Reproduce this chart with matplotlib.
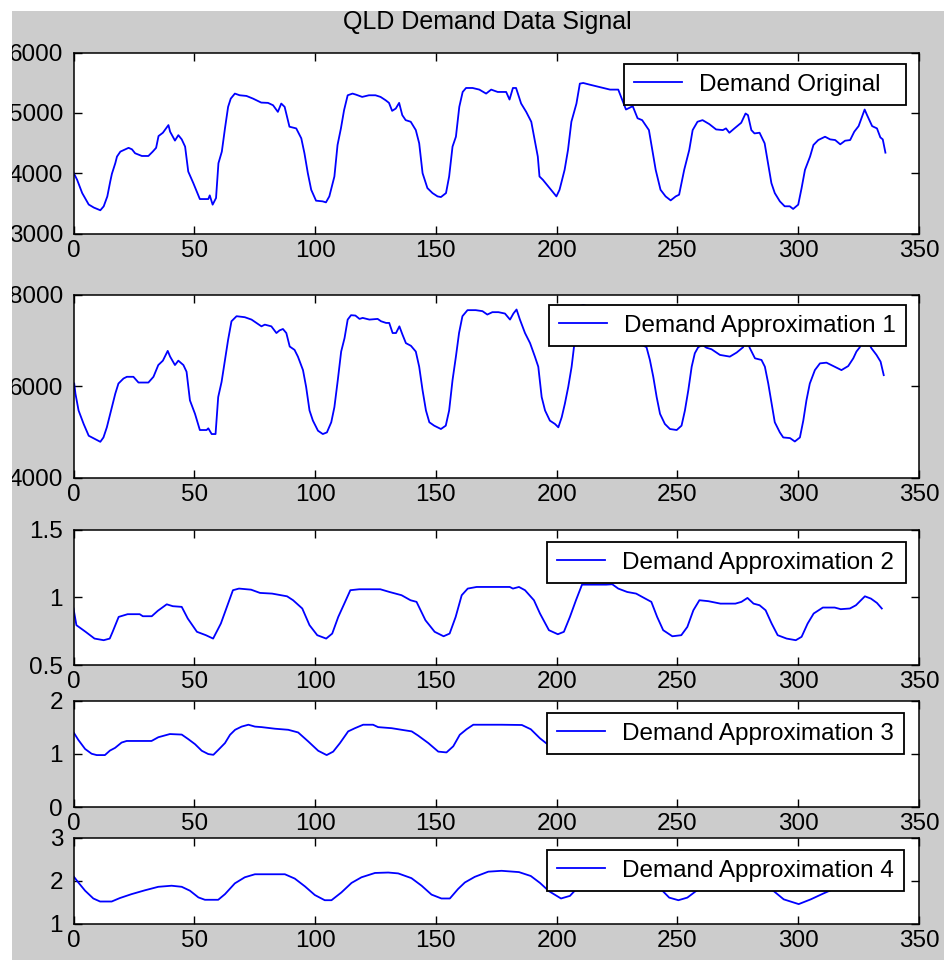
import matplotlib
matplotlib.use("Agg")
import matplotlib.pyplot as plt
from matplotlib.patches import Rectangle

plt.rcParams['font.family'] = ['Liberation Sans', 'DejaVu Sans']

# ---------------- data ----------------
title = "QLD Demand Data Signal"
legend_labels = ["Demand Original", "Demand Approximation 1", "Demand Approximation 2",
                 "Demand Approximation 3", "Demand Approximation 4"]
xticks = [0, 50, 100, 150, 200, 250, 300, 350]
yticks_list = [[3000, 4000, 5000, 6000], [4000, 6000, 8000], [0.5, 1, 1.5], [0, 1, 2], [1, 2, 3]]
ytick_labels_list = [["3000", "4000", "5000", "6000"], ["4000", "6000", "8000"],
                     ["0.5", "1", "1.5"], ["0", "1", "2"], ["1", "2", "3"]]

orig_x = [0, 1.5, 3.6, 6.3, 8.4, 11.1, 12.5, 14, 15.2, 15.9, 17.3, 18, 19.4, 21.4, 22.8, 24.2, 25.5, 28.3, 31,
          32.8, 34.2, 35.2, 37, 39.3, 40, 42, 43.4, 44.8, 46.2, 47.5, 49.6, 52.3, 53.7, 55.8, 56.4, 57.6, 59,
          60, 61.4, 62.7, 64, 65.1, 66.8, 68.8, 71.6, 74.3, 77.7, 80.5, 82.6, 84.6, 86, 87.4, 89.4, 92.2,
          94.3, 95.6, 97, 98.4, 100.4, 103.1, 104.5, 105.9, 108, 109.3, 110.7, 112, 113.5, 115.5, 116.9,
          119.5, 122.3, 125, 127.1, 129.2, 130.6, 131.9, 133.4, 134.8, 136.1, 137.5, 139.6, 141.7, 143.1,
          144.5, 146.5, 148.6, 150.7, 152.1, 154.2, 155.5, 156.9, 158.3, 159.7, 161.1, 162.5, 165.2, 168,
          170.8, 172.9, 175.6, 179.1, 180.5, 181.9, 183.2, 185.3, 187.4, 189.5, 190.9, 192.2, 192.9, 194.3,
          197.1, 199.9, 201.2, 203.3, 204.7, 206.1, 208.2, 209.6, 211, 213.7, 216.5, 219.3, 222.1, 225.5,
          228.7, 231.5, 233.5, 235.4, 238.2, 239.6, 241, 243, 245.1, 247.2, 249.3, 250.7, 252.8, 254.9,
          256.3, 258.3, 260.4, 263.2, 266, 268.8, 270.1, 271.5, 273.6, 276.4, 278.2, 279.2, 280.6, 281.9,
          284, 286.1, 287.5, 288.9, 290.3, 292.4, 294.4, 296.5, 297.9, 300, 301.4, 302.8, 304.9, 306.3,
          308.3, 311.1, 313.2, 315.3, 317.4, 319.4, 321.5, 323.2, 325, 326.4, 327.5, 328.5, 330.6, 332.6,
          334, 335, 336.1]
orig_y = [4010, 3890, 3670, 3480, 3430, 3385, 3450, 3615, 3860, 3990, 4165, 4275, 4357, 4395, 4420, 4395, 4330,
          4285, 4285, 4357, 4420, 4615, 4670, 4797, 4687, 4540, 4630, 4560, 4440, 4027, 3835, 3571, 3571,
          3571, 3632, 3478, 3588, 4165, 4357, 4742, 5099, 5236, 5319, 5291, 5280, 5236, 5170, 5165, 5126,
          5016, 5154, 5099, 4770, 4742, 4577, 4330, 4000, 3725, 3544, 3533, 3516, 3615, 3945, 4467, 4742,
          5044, 5291, 5319, 5302, 5264, 5291, 5291, 5264, 5209, 5165, 5033, 5071, 5165, 4962, 4879, 4852,
          4714, 4495, 4000, 3753, 3670, 3615, 3604, 3670, 3945, 4440, 4604, 5099, 5346, 5412, 5412, 5385,
          5319, 5385, 5346, 5346, 5220, 5412, 5412, 5154, 5016, 4852, 4549, 4275, 3945, 3890, 3753, 3615,
          3725, 4055, 4385, 4852, 5154, 5484, 5495, 5467, 5440, 5412, 5385, 5385, 5055, 5110, 4910, 4879,
          4714, 4385, 4055, 3725, 3615, 3549, 3615, 3643, 4055, 4385, 4714, 4852, 4879, 4813, 4725, 4714,
          4742, 4670, 4742, 4835, 4989, 4962, 4714, 4659, 4670, 4495, 4165, 3835, 3670, 3533, 3451, 3451,
          3407, 3478, 3753, 4055, 4275, 4467, 4549, 4604, 4560, 4549, 4478, 4538, 4549, 4687, 4780, 4934,
          5055, 4962, 4780, 4742, 4593, 4560, 4340]

a1_x = [0.3, 0.8, 2.1, 4.2, 6.3, 9, 11.1, 12.4, 13.8, 15.2, 17.3, 18.6, 20.7, 22.1, 24.8, 26.9, 31, 33.1, 35.1,
        37, 39, 40, 42, 43.4, 45.5, 46.8, 48.2, 50.3, 52.3, 55.1, 55.8, 57.2, 58.8, 59.9, 61.3, 62.7, 64,
        65.4, 67.5, 70.9, 73.7, 75.7, 77.8, 79.2, 81.9, 84, 85.3, 86.7, 88.1, 89.5, 91.5, 92.9, 95, 96.3,
        97.7, 99.1, 101.2, 103.2, 104.9, 106.7, 108, 109.4, 110.8, 112.2, 113.5, 114.9, 116.7, 118.4, 119.7,
        122.5, 125.9, 127.3, 129.4, 130.7, 132.1, 133.5, 134.9, 136.2, 137.6, 139.7, 141.7, 143.1, 144.5,
        145.9, 147.3, 149.3, 152.1, 154.1, 155.5, 156.9, 158.3, 159.6, 161, 163.1, 166.5, 169.3, 171.3,
        173.4, 175.9, 178.6, 180.7, 182.1, 183.4, 184.8, 186.9, 189, 191, 192.4, 193.8, 195.2, 197.2, 199.3,
        200.7, 202.1, 203.4, 204.8, 206.2, 207.2, 208.5, 209.6, 211, 213.7, 216.5, 219.3, 222.1, 225.5,
        228.7, 231.7, 233.8, 235.4, 237.2, 238.6, 240, 241.4, 242.8, 244.8, 246.9, 249.7, 251.7, 253.1,
        254.5, 255.9, 257.2, 258.6, 260.4, 262, 264.1, 267.6, 271.7, 274.5, 277.2, 278.2, 280, 282.1,
        284.8, 286.2, 287.6, 289, 290.3, 292.4, 293.8, 296.6, 298.6, 300.7, 302.1, 303.4, 304.8, 306.9,
        309, 311.7, 314.5, 317.9, 320.7, 322.8, 324.1, 325.5, 327.5, 328.5, 330.3, 332.4, 334.1, 335.4]
a1_y = [6059, 5839, 5472, 5178, 4921, 4848, 4789, 4884, 5105, 5398, 5839, 6059, 6169, 6206, 6206, 6081, 6081,
        6206, 6462, 6558, 6771, 6646, 6462, 6558, 6462, 6316, 5692, 5398, 5046, 5046, 5083, 4958, 4958,
        5765, 6095, 6573, 7013, 7417, 7527, 7505, 7453, 7380, 7306, 7343, 7306, 7160, 7218, 7248, 7160,
        6866, 6793, 6646, 6352, 5985, 5472, 5251, 5031, 4958, 4994, 5215, 5545, 6132, 6756, 7050, 7453,
        7549, 7541, 7468, 7490, 7453, 7468, 7417, 7380, 7380, 7160, 7160, 7306, 7123, 6940, 6881, 6756,
        6426, 5912, 5472, 5215, 5141, 5068, 5141, 5472, 6132, 6646, 7160, 7527, 7659, 7659, 7637, 7563,
        7615, 7615, 7585, 7453, 7585, 7673, 7453, 7160, 6940, 6646, 6426, 5765, 5472, 5251, 5178, 5105,
        5325, 5618, 5985, 6426, 6866, 7290, 7750, 7770, 7730, 7692, 7650, 7615, 7615, 7148, 7248, 6977,
        6899, 6851, 6573, 6206, 5765, 5398, 5178, 5068, 5046, 5141, 5472, 5912, 6426, 6719, 6851, 6899,
        6840, 6807, 6683, 6646, 6734, 6851, 7054, 6829, 6609, 6573, 6426, 6059, 5618, 5215, 4994, 4884,
        4870, 4796, 4884, 5251, 5692, 6059, 6352, 6499, 6514, 6440, 6352, 6440, 6609, 6756, 6851, 7148,
        7016, 6829, 6683, 6536, 6242]

a2_x = [0, 1.2, 5, 8.7, 12.5, 15, 16.2, 18.7, 22.4, 27.4, 28.7, 32.4, 34.9, 38.6, 41.1, 44.8, 47.3, 51.1, 54.8,
        57.8, 61, 63.5, 66, 68.5, 73.5, 77.2, 82.2, 85.9, 88.4, 90.9, 94.7, 97.7, 100.9, 104.6, 107.1, 109.6,
        112.1, 114.6, 118.3, 127, 130.8, 135.8, 139.5, 142, 145.7, 149.5, 153.2, 155.7, 158.2, 160.7, 163.2,
        166.9, 180.6, 181.9, 184.4, 186.9, 190.6, 193.1, 196.8, 200.5, 203, 205.5, 208, 210.5, 214.3, 220.5,
        223, 225.5, 229.2, 232.9, 236.7, 239.2, 241.6, 244.1, 247.9, 251.6, 254.1, 256.6, 259.1, 262.8,
        267.8, 274, 276.5, 279, 281.5, 284, 286.5, 289, 291.5, 295.2, 299, 301.4, 303.9, 306.4, 310.2,
        315.1, 317.6, 321.4, 323.9, 327.6, 330.1, 332.6, 334.6]
a2_y = [0.917, 0.794, 0.745, 0.695, 0.683, 0.695, 0.745, 0.855, 0.875, 0.875, 0.86, 0.86, 0.9, 0.948, 0.934,
        0.929, 0.843, 0.745, 0.72, 0.695, 0.806, 0.929, 1.052, 1.064, 1.056, 1.032, 1.027, 1.015, 1.007,
        0.978, 0.917, 0.794, 0.72, 0.695, 0.732, 0.855, 0.953, 1.052, 1.059, 1.059, 1.039, 1.015, 0.978,
        0.966, 0.83, 0.745, 0.712, 0.732, 0.855, 1.015, 1.064, 1.076, 1.076, 1.064, 1.076, 1.052, 0.978,
        0.88, 0.757, 0.727, 0.745, 0.855, 0.978, 1.093, 1.093, 1.093, 1.096, 1.064, 1.039, 1.027, 0.99,
        0.966, 0.855, 0.757, 0.712, 0.72, 0.781, 0.904, 0.978, 0.971, 0.953, 0.953, 0.966, 0.995, 0.953,
        0.941, 0.904, 0.806, 0.72, 0.695, 0.683, 0.708, 0.806, 0.88, 0.924, 0.924, 0.912, 0.917, 0.941,
        1.007, 0.99, 0.958, 0.917]

a3_x = [0.2, 2, 4.8, 7.5, 9.6, 13, 15.1, 17.2, 19.9, 22, 32.3, 35.1, 39.9, 44.8, 47.5, 50.3, 53.1, 55.8, 57.9,
        60, 62.7, 64.8, 66.9, 69.6, 72.4, 75.1, 77.9, 83.4, 88.9, 93, 97.2, 101.3, 104.8, 107.5, 110.3,
        113.7, 116.5, 119.9, 124, 126.1, 131.7, 135.8, 140, 142.7, 146.9, 151, 154.4, 157.2, 159.9, 162.7,
        165.5, 177.2, 185.6, 189.3, 193.1, 195.6, 198, 201, 203.5, 206, 209, 212, 216, 224, 230, 237, 241,
        245, 249, 252, 255, 259, 263, 272, 278, 283, 288, 293, 298, 302, 306, 311, 318, 324, 329, 334, 336]
a3_y = [1.39, 1.26, 1.09, 1.0, 0.975, 0.975, 1.06, 1.11, 1.21, 1.24, 1.24, 1.31, 1.37, 1.36, 1.275, 1.18, 1.056,
        0.994, 0.98, 1.075, 1.2, 1.356, 1.45, 1.51, 1.545, 1.51, 1.5, 1.47, 1.45, 1.4, 1.23, 1.056, 0.975,
        1.04, 1.2, 1.42, 1.48, 1.545, 1.545, 1.5, 1.48, 1.45, 1.42, 1.34, 1.2, 1.04, 1.025, 1.14, 1.356,
        1.46, 1.545, 1.545, 1.54, 1.46, 1.29, 1.2, 1.13, 1.08, 1.08, 1.13, 1.3, 1.48, 1.55, 1.55, 1.48, 1.4,
        1.25, 1.12, 1.08, 1.08, 1.13, 1.3, 1.37, 1.35, 1.39, 1.34, 1.18, 1.1, 1.08, 1.08, 1.14, 1.26, 1.28,
        1.32, 1.4, 1.34, 1.3]

a4_x = [0.2, 2, 4.8, 8.2, 11, 15.8, 19.2, 24, 29.6, 35.1, 40.6, 44.8, 48.2, 51.7, 54.4, 59.9, 62.7, 66.8, 70.9,
        75.1, 87.5, 91.6, 95.8, 99.9, 104, 106.8, 110.9, 115.1, 119.2, 124.8, 130.3, 134.4, 139.9, 144.1,
        148.2, 152.3, 155.8, 159.2, 162, 166.1, 171.7, 177.2, 184.4, 189.3, 193.1, 196.8, 201.8, 205.5, 208,
        211, 218, 226, 233, 239, 242.9, 246.6, 250.4, 254.1, 259.1, 263, 270, 276, 283, 289, 294, 300.2,
        305.2, 310.2, 315.1, 319, 326, 331, 336]
a4_y = [2.09, 1.96, 1.77, 1.59, 1.52, 1.52, 1.6, 1.69, 1.78, 1.86, 1.885, 1.86, 1.77, 1.615, 1.56, 1.56, 1.69,
        1.94, 2.08, 2.15, 2.15, 2.05, 1.87, 1.67, 1.55, 1.55, 1.73, 1.95, 2.08, 2.18, 2.19, 2.17, 2.06, 1.885,
        1.68, 1.59, 1.59, 1.81, 1.96, 2.09, 2.21, 2.23, 2.2, 2.11, 1.95, 1.76, 1.59, 1.65, 1.8, 1.97, 2.08,
        2.1, 2.05, 1.97, 1.82, 1.61, 1.55, 1.61, 1.82, 1.97, 2.03, 2.02, 1.97, 1.8, 1.57, 1.46, 1.57, 1.7,
        1.82, 1.97, 2.02, 2.03, 2.0]

series = [(orig_x, orig_y), (a1_x, a1_y), (a2_x, a2_y), (a3_x, a3_y), (a4_x, a4_y)]

# ---------------- layout (pixels in a 944x960 canvas) ----------------
W, H = 944, 960
AX_L, AX_R = 73.5, 919
ax_tb = [(52.5, 233.5), (294.5, 478), (529.5, 665), (700.5, 807), (837.5, 924)]
leg_box = [(624, 906, 64), (549, 906, 305), (547, 906, 542), (547, 904, 713), (547, 904, 850)]
BG = '#cccccc'
FS = 17.5

fig = plt.figure(figsize=(W / 100, H / 100), dpi=100, facecolor=BG)

for i, ((top, bot), (sx, sy)) in enumerate(zip(ax_tb, series)):
    ax = fig.add_axes([AX_L / W, 1 - bot / H, (AX_R - AX_L) / W, (bot - top) / H])
    ax.set_facecolor('white')
    ax.plot(sx, sy, color='#0000ff', lw=1.3, label=legend_labels[i])
    ax.set_xlim(0, 350)
    ax.set_ylim(yticks_list[i][0], yticks_list[i][-1])
    ax.set_xticks(xticks)
    ax.set_xticklabels([str(t) for t in xticks])
    ax.set_yticks(yticks_list[i])
    ax.set_yticklabels(ytick_labels_list[i])
    ax.tick_params(direction='in', top=True, right=True, length=6, width=1.0,
                   labelsize=FS, colors='black')
    ax.tick_params(axis='x', pad=4.5)
    ax.tick_params(axis='y', pad=7.5)
    for sp in ax.spines.values():
        sp.set_linewidth(1.1)
        sp.set_color('black')
    l, r, t = leg_box[i]
    h = 42
    leg = ax.legend(loc='upper left', mode='expand',
                    bbox_to_anchor=(l / W, 1 - (t + h) / H, (r - l) / W, h / H),
                    bbox_transform=fig.transFigure, borderaxespad=0, borderpad=0.4,
                    handlelength=2.0, handletextpad=0.7, fontsize=FS, fancybox=False,
                    framealpha=1, edgecolor='black', facecolor='white')
    leg.get_frame().set_linewidth(1.3)
    leg.get_lines()[0].set_linewidth(1.3)

fig.text(487 / W, 1 - 22 / H, title, ha='center', va='center', fontsize=18, color='black')

# white margins at left and top of the screenshot
fig.add_artist(Rectangle((0, 0), 12 / W, 1, transform=fig.transFigure,
                         facecolor='white', edgecolor='none', zorder=20))
fig.add_artist(Rectangle((0, 1 - 11 / H), 1, 11 / H, transform=fig.transFigure,
                         facecolor='white', edgecolor='none', zorder=20))

fig.savefig('out.png', dpi=100, facecolor=BG)
